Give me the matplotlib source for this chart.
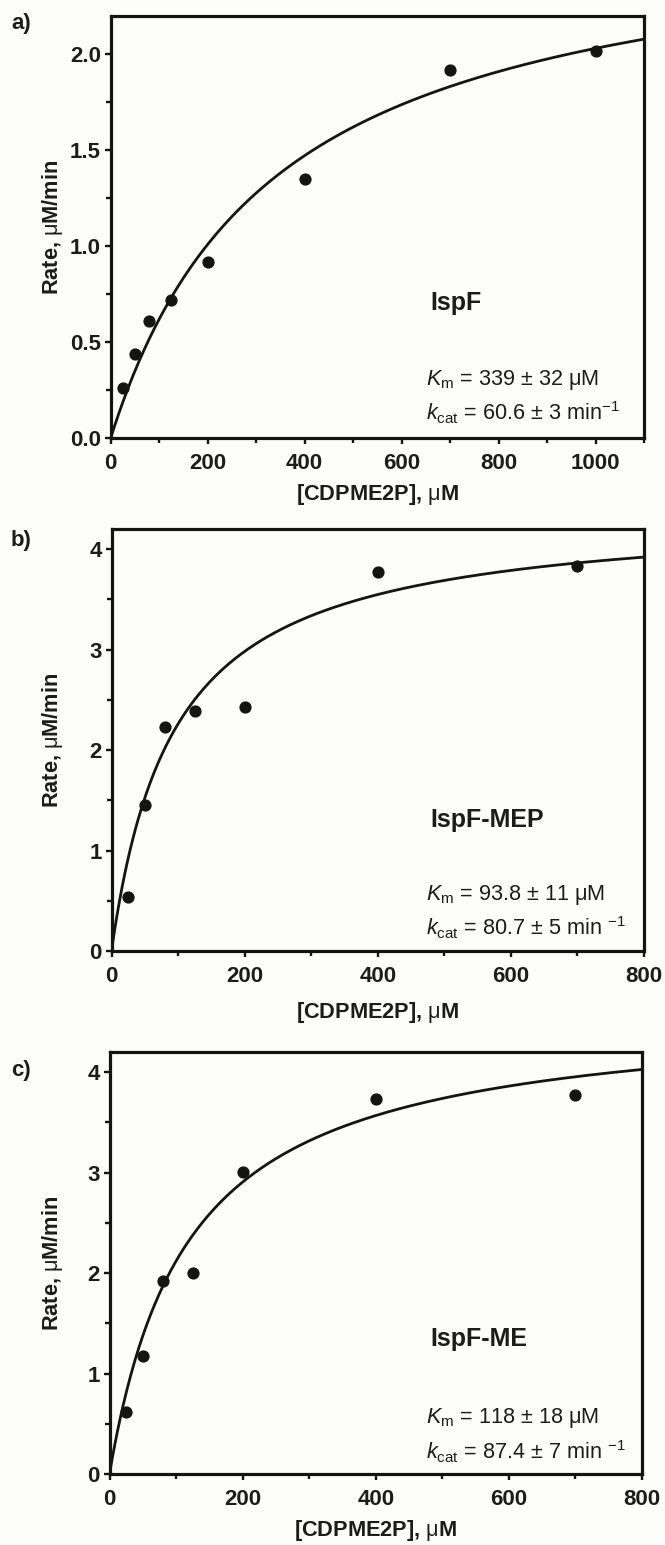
import numpy as np
import matplotlib
matplotlib.use("Agg")
import matplotlib.pyplot as plt
from matplotlib.ticker import MultipleLocator

FONT = ["Liberation Sans", "DejaVu Sans"]
plt.rcParams["font.family"] = FONT
plt.rcParams["mathtext.fontset"] = "custom"
plt.rcParams["mathtext.rm"] = "Liberation Sans"
plt.rcParams["mathtext.it"] = "Liberation Sans:italic"
plt.rcParams["mathtext.bf"] = "Liberation Sans:bold"

# substrate concentrations (uM) and measured rates (uM/min)
conc_a = [25, 50, 80, 125, 200, 400, 700, 1000]
rate_a = [0.26, 0.44, 0.61, 0.72, 0.92, 1.35, 1.92, 2.02]
conc_b = [25, 50, 80, 125, 200, 400, 700]
rate_b = [0.54, 1.45, 2.23, 2.39, 2.43, 3.77, 3.83]
conc_c = [25, 50, 80, 125, 200, 400, 700]
rate_c = [0.62, 1.17, 1.92, 2.00, 3.01, 3.73, 3.77]

# Michaelis-Menten fit parameters (Km in uM, Vmax in uM/min)
km_values = [339, 93.8, 118]
vmax_values = [2.72, 4.38, 4.62]

names = ["IspF", "IspF-MEP", "IspF-ME"]
panel_tags = ["a)", "b)", "c)"]
km_texts = [r"$K_{\rm m}$ = 339 ± 32 μM",
            r"$K_{\rm m}$ = 93.8 ± 11 μM",
            r"$K_{\rm m}$ = 118 ± 18 μM"]
kcat_texts = [r"$k_{\rm cat}$ = 60.6 ± 3 min$^{-1}$",
              r"$k_{\rm cat}$ = 80.7 ± 5 min $^{-1}$",
              r"$k_{\rm cat}$ = 87.4 ± 7 min $^{-1}$"]
x_limits = [1100, 800, 800]
y_limits = [2.2, 4.2, 4.2]
y_major = [0.5, 1, 1]
x_major = [200, 200, 200]
y_fmt = ["{:.1f}", "{:.0f}", "{:.0f}"]

W, H = 665, 1545
BG = "#fdfdfb"
INK = "#141414"
fig = plt.figure(figsize=(W / 100, H / 100), dpi=100, facecolor=BG)

# axes boxes in pixels: left, top, right, bottom
boxes = [(110.7, 16, 644, 438), (111.5, 529, 644, 951), (109.5, 1052, 642, 1474)]
# text baselines in pixels
name_y = [310, 827, 1346]
km_y = [385, 900, 1423]
kcat_y = [420, 935, 1459]
tag_y = [13, 530, 1060]
xlabel_off = [-0.104, -0.116, -0.104]

def fx(px):
    return px / W

def fy(py):
    return 1 - py / H

datasets = [(conc_a, rate_a), (conc_b, rate_b), (conc_c, rate_c)]

for i, (cx, ry) in enumerate(datasets):
    l, t, r, b = boxes[i]
    ax = fig.add_axes([fx(l), fy(b), (r - l) / W, (b - t) / H])
    ax.set_facecolor(BG)

    xs = np.linspace(0, x_limits[i], 400)
    ax.plot(xs, vmax_values[i] * xs / (km_values[i] + xs), color=INK, lw=2.0)
    ax.plot(cx, ry, "o", color=INK, ms=7.8, clip_on=False)

    ax.set_xlim(0, x_limits[i])
    ax.set_ylim(0, y_limits[i])
    ax.xaxis.set_major_locator(MultipleLocator(x_major[i]))
    ax.xaxis.set_minor_locator(MultipleLocator(x_major[i] / 2))
    ax.yaxis.set_minor_locator(MultipleLocator(y_major[i] / 2))
    yt = np.arange(0, y_limits[i] + 1e-9, y_major[i])
    ax.set_yticks(yt)
    ax.set_yticklabels([y_fmt[i].format(v) for v in yt])

    for s in ax.spines.values():
        s.set_linewidth(2.3)
        s.set_color(INK)
    ax.tick_params(which="major", direction="out", length=4.5, width=1.7,
                   color=INK, labelsize=16, pad=2.5, labelcolor="#1c1c1c")
    ax.tick_params(which="minor", direction="out", length=3.5, width=1.7,
                   color=INK)
    ax.tick_params(axis="x", which="major", pad=6)
    for lab in ax.get_xticklabels() + ax.get_yticklabels():
        lab.set_fontweight("bold")

    ax.set_xlabel(r"[CDPME2P], $\mathrm{\mu}$M", fontsize=15.7, fontweight="bold",
                  color="#1c1c1c")
    ax.set_ylabel(r"Rate, $\mathrm{\mu}$M/min", fontsize=15.7, fontweight="bold",
                  color="#1c1c1c")
    ax.xaxis.set_label_coords(0.5, xlabel_off[i])
    ax.yaxis.set_label_coords((65 - l) / (r - l), 0.5)

    fig.text(fx(430), fy(name_y[i]), names[i], fontsize=18, fontweight="bold",
             va="baseline", ha="left", color="#1c1c1c")
    fig.text(fx(426), fy(km_y[i]), km_texts[i], fontsize=15.6, va="baseline",
             ha="left", color="#1c1c1c")
    fig.text(fx(426), fy(kcat_y[i]), kcat_texts[i], fontsize=15.6, va="baseline",
             ha="left", color="#1c1c1c")
    fig.text(fx(11), fy(tag_y[i]), panel_tags[i], fontsize=16, fontweight="bold",
             va="top", ha="left", color="#1c1c1c")

fig.savefig("out.png", dpi=100, facecolor=fig.get_facecolor())
